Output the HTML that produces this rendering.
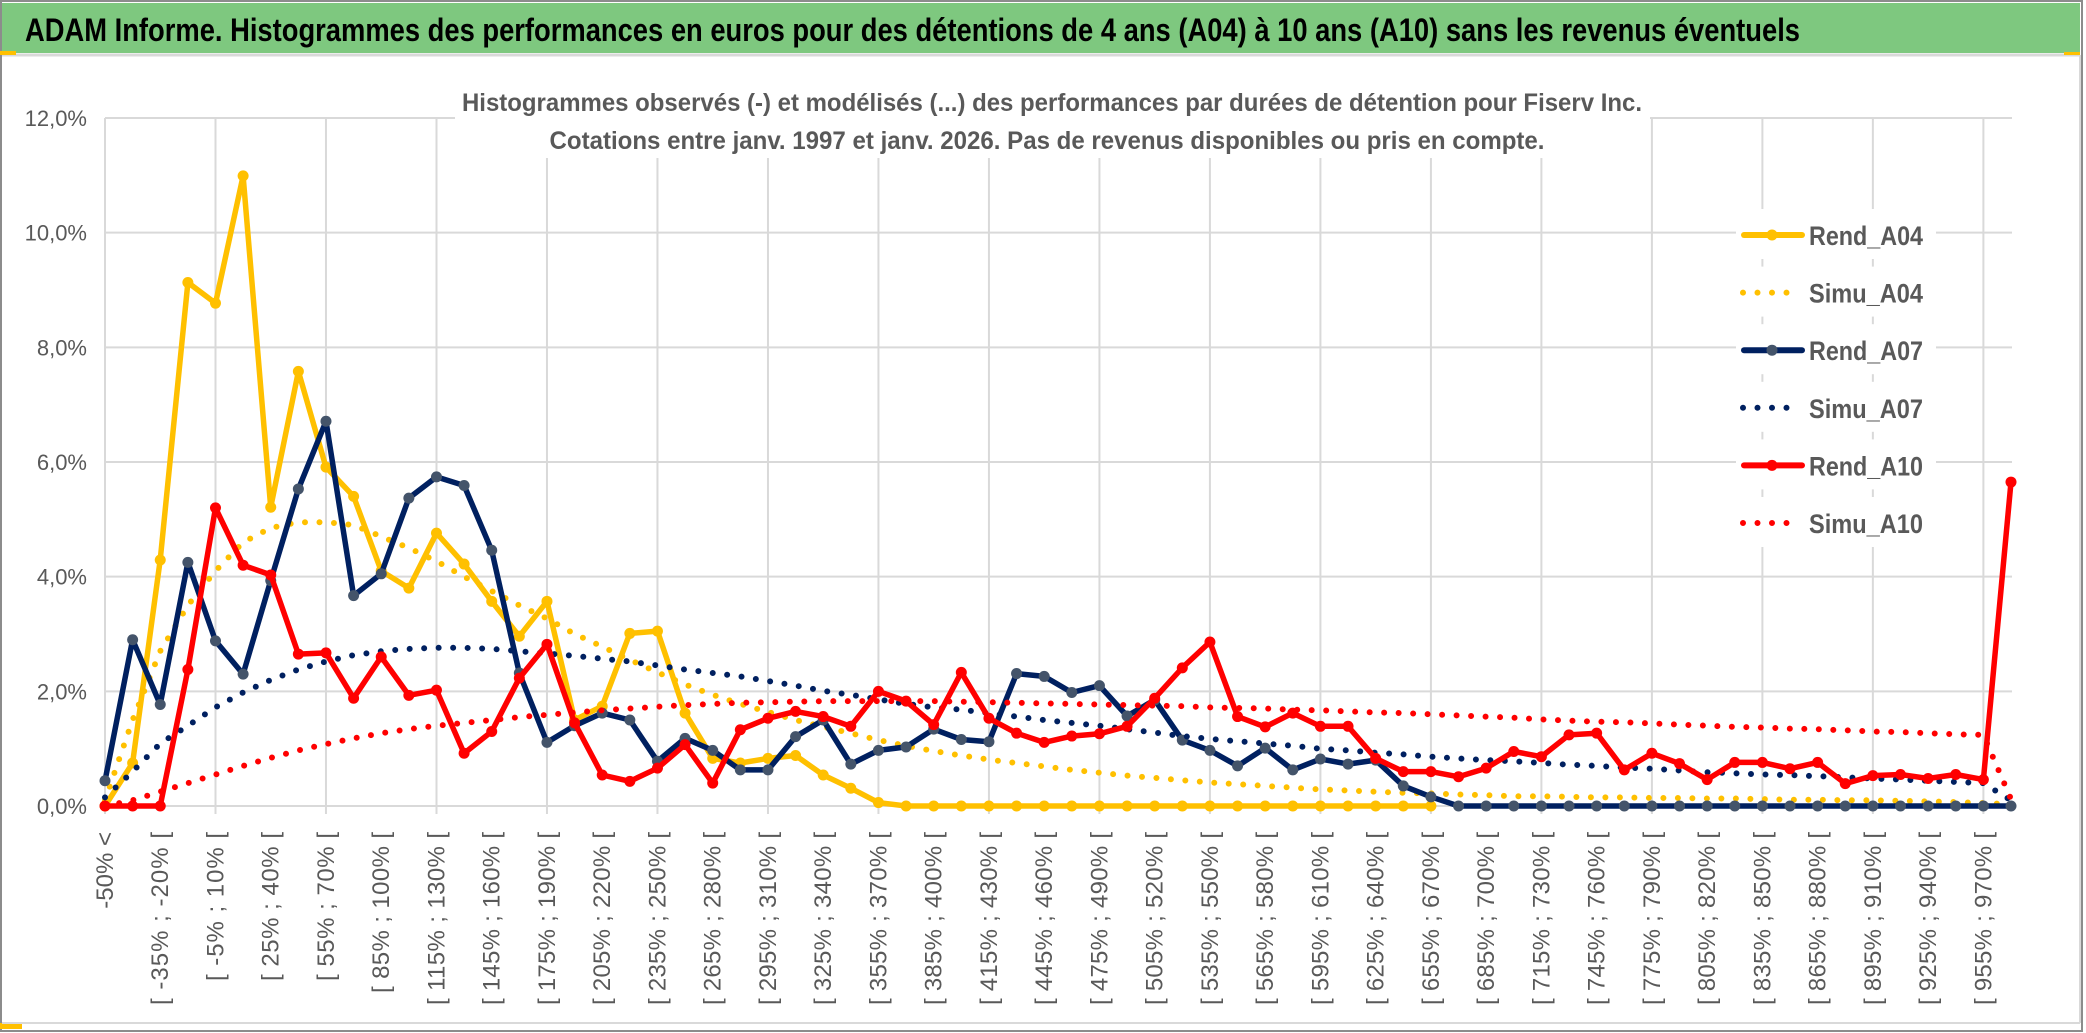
<!DOCTYPE html>
<html><head><meta charset="utf-8">
<style>
html,body{margin:0;padding:0;background:#fff;}
svg{display:block;font-family:"Liberation Sans",sans-serif;}
</style></head>
<body>
<svg id="chart" width="2086" height="1033" viewBox="0 0 2086 1033" xmlns="http://www.w3.org/2000/svg">
  <rect x="0" y="0" width="2086" height="1033" fill="#ffffff"/>
  <rect x="1" y="1" width="2081" height="1030" fill="none" stroke="#8c8c8c" stroke-width="2"/>
  <rect x="2" y="3" width="2078" height="50" fill="#7ec87f"/>
  <line x1="2" y1="55" x2="2080" y2="55" stroke="#d9d9d9" stroke-width="3"/>
  <rect x="0" y="51" width="16" height="4" fill="#ffc000"/>
  <rect x="2064" y="52" width="16" height="3" fill="#ffc000"/>
  <rect x="0" y="1023" width="22" height="6" fill="#ffc000"/>
  <line x1="2" y1="1023" x2="2080" y2="1023" stroke="#d9d9d9" stroke-width="2"/>
  <line x1="2080" y1="55" x2="2080" y2="1023" stroke="#d9d9d9" stroke-width="2"/>
  <text x="25" y="41" font-size="32" font-weight="bold" fill="#000" textLength="1775" lengthAdjust="spacingAndGlyphs">ADAM Informe. Histogrammes des performances en euros pour des détentions de 4 ans (A04) à 10 ans (A10) sans les revenus éventuels</text>
  <g id="grid"></g>
  <g id="yaxis"></g>
  <g id="xaxis"></g>
  <rect x="455" y="78" width="1195" height="80" fill="#ffffff"/>
  <text x="1052" y="111" font-size="25" font-weight="bold" fill="#595959" text-anchor="middle" textLength="1180" lengthAdjust="spacingAndGlyphs">Histogrammes observés (-) et modélisés (...) des performances par durées de détention pour Fiserv Inc.</text>
  <text x="1047" y="149" font-size="25" font-weight="bold" fill="#595959" text-anchor="middle" textLength="995" lengthAdjust="spacingAndGlyphs">Cotations entre janv. 1997 et janv. 2026. Pas de revenus disponibles ou pris en compte.</text>
  <g id="series"></g>
  <g id="legend"></g>
</svg>
<script>
const yTicks = [0, 2, 4, 6, 8, 10, 12];
const yTickLabels = ["0,0%", "2,0%", "4,0%", "6,0%", "8,0%", "10,0%", "12,0%"];
const categoryStarts = [-50, -35, -20, -5, 10, 25, 40, 55, 70, 85, 100, 115, 130, 145, 160, 175, 190, 205, 220, 235, 250, 265, 280, 295, 310, 325, 340, 355, 370, 385, 400, 415, 430, 445, 460, 475, 490, 505, 520, 535, 550, 565, 580, 595, 610, 625, 640, 655, 670, 685, 700, 715, 730, 745, 760, 775, 790, 805, 820, 835, 850, 865, 880, 895, 910, 925, 940, 955, 970];
const rendA04 = [0, 0.75, 4.29, 9.13, 8.77, 10.99, 5.21, 7.58, 5.91, 5.4, 4.1, 3.8, 4.76, 4.22, 3.57, 2.96, 3.57, 1.5, 1.74, 3.01, 3.05, 1.62, 0.83, 0.75, 0.83, 0.88, 0.54, 0.31, 0.06, 0, 0, 0, 0, 0, 0, 0, 0, 0, 0, 0, 0, 0, 0, 0, 0, 0, 0, 0, 0];
const simuA04 = [0.1, 1.5, 2.7, 3.5, 4.1, 4.6, 4.85, 4.95, 4.95, 4.9, 4.7, 4.5, 4.27, 4.0, 3.75, 3.5, 3.27, 3.0, 2.78, 2.55, 2.33, 2.12, 1.94, 1.78, 1.64, 1.5, 1.38, 1.27, 1.15, 1.05, 0.96, 0.88, 0.81, 0.75, 0.69, 0.63, 0.58, 0.53, 0.49, 0.45, 0.41, 0.38, 0.35, 0.32, 0.29, 0.27, 0.25, 0.23, 0.22, 0.2, 0.19, 0.17, 0.17, 0.16, 0.15, 0.15, 0.14, 0.14, 0.13, 0.13, 0.12, 0.11, 0.11, 0.1, 0.1, 0.09, 0.08, 0.07, 0.05, 0.03];
const rendA07 = [0.44, 2.9, 1.77, 4.25, 2.88, 2.3, 3.93, 5.53, 6.71, 3.67, 4.05, 5.37, 5.74, 5.59, 4.46, 2.32, 1.11, 1.4, 1.62, 1.5, 0.78, 1.18, 0.97, 0.63, 0.63, 1.21, 1.5, 0.73, 0.97, 1.03, 1.34, 1.16, 1.12, 2.31, 2.26, 1.98, 2.1, 1.57, 1.85, 1.15, 0.97, 0.7, 1.01, 0.63, 0.82, 0.73, 0.8, 0.35, 0.16, 0, 0, 0, 0, 0, 0, 0, 0, 0, 0, 0, 0, 0, 0, 0, 0, 0, 0, 0, 0, 0];
const simuA07 = [0.15, 0.6, 1.09, 1.4, 1.72, 1.98, 2.2, 2.38, 2.52, 2.63, 2.7, 2.74, 2.76, 2.76, 2.74, 2.7, 2.66, 2.62, 2.57, 2.52, 2.45, 2.38, 2.32, 2.26, 2.18, 2.1, 2.01, 1.94, 1.86, 1.78, 1.72, 1.68, 1.62, 1.56, 1.5, 1.45, 1.4, 1.34, 1.28, 1.22, 1.17, 1.13, 1.09, 1.05, 1.0, 0.97, 0.93, 0.9, 0.86, 0.83, 0.8, 0.78, 0.75, 0.72, 0.7, 0.67, 0.65, 0.62, 0.59, 0.57, 0.55, 0.54, 0.52, 0.5, 0.48, 0.46, 0.44, 0.42, 0.4, 0.1];
const rendA10 = [0, 0, 0, 2.38, 5.2, 4.2, 4.03, 2.65, 2.67, 1.88, 2.6, 1.93, 2.02, 0.92, 1.3, 2.23, 2.82, 1.45, 0.54, 0.43, 0.66, 1.07, 0.4, 1.33, 1.53, 1.65, 1.56, 1.39, 2.0, 1.83, 1.42, 2.33, 1.53, 1.27, 1.11, 1.22, 1.26, 1.39, 1.88, 2.41, 2.86, 1.56, 1.38, 1.62, 1.39, 1.39, 0.83, 0.6, 0.6, 0.51, 0.66, 0.95, 0.86, 1.24, 1.27, 0.63, 0.92, 0.74, 0.46, 0.76, 0.76, 0.65, 0.76, 0.39, 0.53, 0.55, 0.48, 0.55, 0.46, 5.65];
const simuA10 = [0, 0.1, 0.25, 0.4, 0.55, 0.7, 0.84, 0.97, 1.08, 1.18, 1.27, 1.34, 1.4, 1.45, 1.5, 1.55, 1.59, 1.63, 1.67, 1.7, 1.73, 1.76, 1.78, 1.8, 1.81, 1.82, 1.83, 1.83, 1.83, 1.83, 1.83, 1.82, 1.81, 1.8, 1.79, 1.78, 1.77, 1.76, 1.75, 1.74, 1.72, 1.71, 1.7, 1.68, 1.67, 1.65, 1.63, 1.62, 1.6, 1.58, 1.56, 1.54, 1.51, 1.49, 1.47, 1.46, 1.44, 1.42, 1.4, 1.38, 1.37, 1.35, 1.34, 1.32, 1.3, 1.29, 1.27, 1.25, 1.24, 0.12];
const legendLabels = ["Rend_A04", "Simu_A04", "Rend_A07", "Simu_A07", "Rend_A10", "Simu_A10"];

const NS = "http://www.w3.org/2000/svg";
const nCat = categoryStarts.length + 1; // includes "-50% <" and final open bin
const X0 = 105, X1 = 2011, Y0 = 806, Y12 = 118, PLOT_RIGHT = 2012;
function xScale(i){ return X0 + i * (X1 - X0) / (nCat - 1); }
function yScale(v){ return Y0 - v * (Y0 - Y12) / 12; }
function mk(tag, attrs, parent){ const e = document.createElementNS(NS, tag); for (const k in attrs) e.setAttribute(k, attrs[k]); parent.appendChild(e); return e; }

const grid = document.getElementById('grid');
yTicks.forEach((t, k) => {
  const l = mk('line', {x1: X0, x2: PLOT_RIGHT, y1: yScale(t), y2: yScale(t), stroke: '#d9d9d9', 'stroke-width': 2}, grid);
  
  
});
for (let i = 0; i < nCat; i += 4) {
  const l = mk('line', {x1: xScale(i), x2: xScale(i), y1: yScale(12), y2: Y0 + 8, stroke: '#d9d9d9', 'stroke-width': 2}, grid);
  
  
}

const yaxis = document.getElementById('yaxis');
yTicks.forEach((t, k) => {
  const tx = mk('text', {x: 87, y: yScale(t) + 8, 'font-size': 22, fill: '#595959', 'text-anchor': 'end'}, yaxis);
  tx.textContent = yTickLabels[k];
  
  
});

const xaxis = document.getElementById('xaxis');
function catLabel(i){
  if (i === 0) return "-50% <";
  const a = categoryStarts[i - 1];
  return "[ " + a + "% ; " + (a + 15) + "% [";
}
for (let i = 0; i < nCat - 1; i += 2) {
  const x = xScale(i) + 8;
  const lbl = catLabel(i);
  const tx = mk('text', {x: x, y: 832, 'font-size': 24, fill: '#595959', 'text-anchor': 'end', transform: 'rotate(-90 ' + x + ' 832)'}, xaxis);
  if (i > 0) tx.setAttribute('textLength', 173 + (lbl.length - 15) * 12);
  tx.textContent = lbl;
  
  
}

const series = document.getElementById('series');
function pathFor(arr){ return arr.map((v, i) => (i ? 'L' : 'M') + xScale(i).toFixed(1) + ' ' + yScale(v).toFixed(1)).join(' '); }
function solid(arr, color, marker, name){
  const g = mk('g', {}, series);
  
  
  const p = mk('path', {d: pathFor(arr), fill: 'none', stroke: color, 'stroke-width': 5.5, 'stroke-linejoin': 'round', 'stroke-linecap': 'round'}, g);
  
  
  arr.forEach((v, i) => {
    const c = mk('circle', {cx: xScale(i), cy: yScale(v), r: 5.5, fill: marker}, g);
    
    
  });
}
function dotted(arr, color, name){
  const p = mk('path', {d: pathFor(arr), fill: 'none', stroke: color, 'stroke-width': 6, 'stroke-dasharray': '0 14.5', 'stroke-linecap': 'round', 'stroke-linejoin': 'round'}, series);
  
  
}
solid(rendA04, '#ffc000', '#ffc000', 'rend-a04');
dotted(simuA04, '#ffc000', 'simu-a04');
solid(rendA07, '#002060', '#44546a', 'rend-a07');
dotted(simuA07, '#002060', 'simu-a07');
solid(rendA10, '#ff0000', '#ff0000', 'rend-a10');
dotted(simuA10, '#ff0000', 'simu-a10');

const legend = document.getElementById('legend');
const legColors = ['#ffc000', '#ffc000', '#002060', '#002060', '#ff0000', '#ff0000'];
const legMarkers = ['#ffc000', null, '#44546a', null, '#ff0000', null];
legendLabels.forEach((lab, k) => {
  const y = 235 + k * 57.6;
  const g = mk('g', {}, legend);
  
  
  mk('rect', {x: 1736, y: y - 26, width: 200, height: 50, fill: '#fff'}, g);
  if (legMarkers[k]) {
    mk('line', {x1: 1744, x2: 1802, y1: y, y2: y, stroke: legColors[k], 'stroke-width': 6, 'stroke-linecap': 'round'}, g);
    mk('circle', {cx: 1772, cy: y, r: 5.5, fill: legMarkers[k]}, g);
  } else {
    mk('line', {x1: 1743, x2: 1800, y1: y, y2: y, stroke: legColors[k], 'stroke-width': 6, 'stroke-dasharray': '0 14.5', 'stroke-linecap': 'round'}, g);
  }
  const t = mk('text', {x: 1809, y: y + 10, 'font-size': 27, 'font-weight': 'bold', fill: '#595959', textLength: 114, lengthAdjust: 'spacingAndGlyphs'}, g);
  t.textContent = lab;
});
</script>
</body></html>
